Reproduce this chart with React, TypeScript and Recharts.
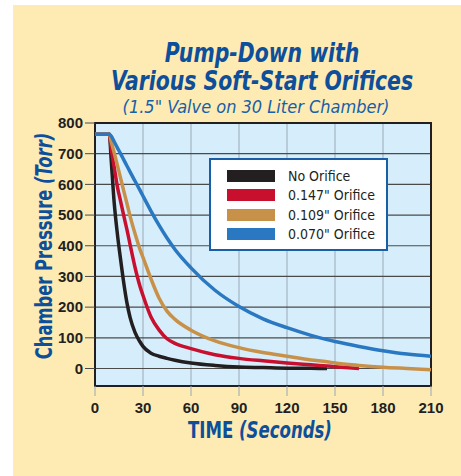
import React from 'react'
import {
  LineChart,
  Line,
  XAxis,
  YAxis,
  CartesianGrid,
  ReferenceArea,
  Label,
} from 'recharts'

// tempo (s) e pressões (Torr)
const time = [0, 9, 10, 12, 14, 16, 18, 20, 22, 25, 28, 30, 35, 40, 45, 50, 60, 75, 90, 105, 120, 135, 145, 150, 165, 180, 195, 210]
const noOrifice = [763, 763, 690, 540, 438, 355, 278, 213, 165, 118, 88, 72, 50, 40, 33, 27, 18, 10, 5, 3, 1, 0.5, 0, null, null, null, null, null]
const orifice147 = [763, 763, 722, 656, 592, 545, 497, 452, 402, 330, 270, 238, 168, 126, 97, 82, 65, 45, 33, 25, 18, 12, 8, 6, 0, null, null, null]
const orifice109 = [763, 763, 742, 703, 662, 620, 578, 537, 495, 440, 390, 362, 292, 230, 187, 160, 125, 90, 68, 52, 40, 28, 22, 18, 10, 4, 0, -4]
const orifice070 = [763, 763, 758, 739, 719, 700, 680, 660, 640, 611, 582, 562, 513, 467, 425, 388, 328, 255, 202, 162, 133, 108, 94, 88, 72, 58, 47, 40]

const xTicks = [0, 30, 60, 90, 120, 150, 180, 210]
const yTicks = [0, 100, 200, 300, 400, 500, 600, 700, 800]

const series = [
  { key: 'none', name: 'No Orifice', color: '#231f20', values: noOrifice },
  { key: 'o147', name: '0.147" Orifice', color: '#c8102e', values: orifice147 },
  { key: 'o109', name: '0.109" Orifice', color: '#c8914a', values: orifice109 },
  { key: 'o070', name: '0.070" Orifice', color: '#2a78c2', values: orifice070 },
]

const data = time.map((t, i) => {
  const row: Record<string, number | null> = { t }
  series.forEach((s) => (row[s.key] = s.values[i]))
  return row
})

const blue = '#0d4f9b'
const narrow = '"DejaVu Sans Condensed", "Liberation Sans", sans-serif'
const tickStyle = { fontFamily: '"Liberation Sans", Arial, sans-serif', fontWeight: 700, fontSize: 15, fill: '#231f20' }

function LegendBox() {
  return (
    <div style={{
      position: 'absolute', left: 209, top: 158, width: 175, height: 89, background: '#fff',
      border: '2px solid #1a5ea8',
    }}>
      {series.map((s, i) => (
        <div key={s.key} style={{ position: 'absolute', left: 16, top: 10 + i * 19.3, display: 'flex', alignItems: 'center' }}>
          <div style={{ width: 48, height: 12, background: s.color }} />
          <span style={{ marginLeft: 13, fontFamily: narrow, fontSize: 14, color: '#231f20', lineHeight: '12px', whiteSpace: 'nowrap' }}>{s.name}</span>
        </div>
      ))}
    </div>
  )
}

function YLabel() {
  const cx = 44
  const cy = 246
  return (
    <text
      transform={`translate(${cx} ${cy}) rotate(-90) scale(0.79 1)`}
      textAnchor="middle"
      dominantBaseline="central"
      fill={blue}
      style={{ fontFamily: narrow, fontWeight: 700, fontSize: 23 }}
    >
      Chamber Pressure <tspan fontStyle="italic">(Torr)</tspan>
    </text>
  )
}

function XLabel() {
  return (
    <text
      transform="translate(260 438) scale(0.8 1)"
      textAnchor="middle"
      fill={blue}
      style={{ fontFamily: narrow, fontWeight: 700, fontSize: 23 }}
    >
      TIME <tspan fontStyle="italic">(Seconds)</tspan>
    </text>
  )
}

export default function App() {
  return (
    <div style={{ position: 'absolute', left: 0, top: 0, width: 461, height: 476, background: '#fff', overflow: 'hidden' }}>
      <div style={{ position: 'absolute', left: 13, top: 5, width: 448, height: 471, background: '#fdebb3' }} />
      <div style={{
        position: 'absolute', left: 0, top: 39, width: 524, textAlign: 'center', color: blue,
        fontFamily: narrow, fontWeight: 700, fontStyle: 'italic', fontSize: 27, lineHeight: '28px',
        transform: 'scaleX(0.84)', transformOrigin: '262px 0',
      }}>
        Pump-Down with<br />Various Soft-Start Orifices
      </div>
      <div style={{
        position: 'absolute', left: 0, top: 98, width: 512, textAlign: 'center', color: '#1560a8',
        fontFamily: narrow, fontStyle: 'italic', fontSize: 18, lineHeight: '18px',
      }}>
        (1.5" Valve on 30 Liter Chamber)
      </div>
      <div style={{ position: 'absolute', left: 0, top: 0 }}>
        <LineChart width={461} height={476} data={data} margin={{ top: 123, right: 30, bottom: 60, left: 45 }}>
          <CartesianGrid vertical horizontal={false} stroke="#9aa8b4" strokeWidth={1} fill="#d6eefb" />
          <CartesianGrid vertical={false} horizontal stroke="#4a4a4a" strokeWidth={1.2} />
          <ReferenceArea x1={0} x2={210} y1={-57} y2={800} fill="none" stroke="#231f20" strokeWidth={2} />
          <XAxis
            type="number"
            dataKey="t"
            domain={[0, 210]}
            ticks={xTicks}
            height={30}
            axisLine={false}
            tickLine={{ stroke: '#9aa8b4' }}
            tickSize={10}
            tickMargin={6}
            tick={tickStyle}
            interval={0}
          >
            <Label content={XLabel} />
          </XAxis>
          <YAxis
            type="number"
            domain={[-57, 800]}
            ticks={yTicks}
            width={50}
            axisLine={false}
            tickLine={{ stroke: '#4a4a4a' }}
            tickSize={10}
            tickMargin={2}
            tick={tickStyle}
            interval={0}
            allowDataOverflow
          >
            <Label content={YLabel} />
          </YAxis>
          {series.map((s) => (
            <Line
              key={s.key}
              type="monotone"
              dataKey={s.key}
              name={s.name}
              stroke={s.color}
              strokeWidth={3.5}
              dot={false}
              connectNulls={false}
              isAnimationActive={false}
            />
          ))}
        </LineChart>
      </div>
      <LegendBox />
    </div>
  )
}
